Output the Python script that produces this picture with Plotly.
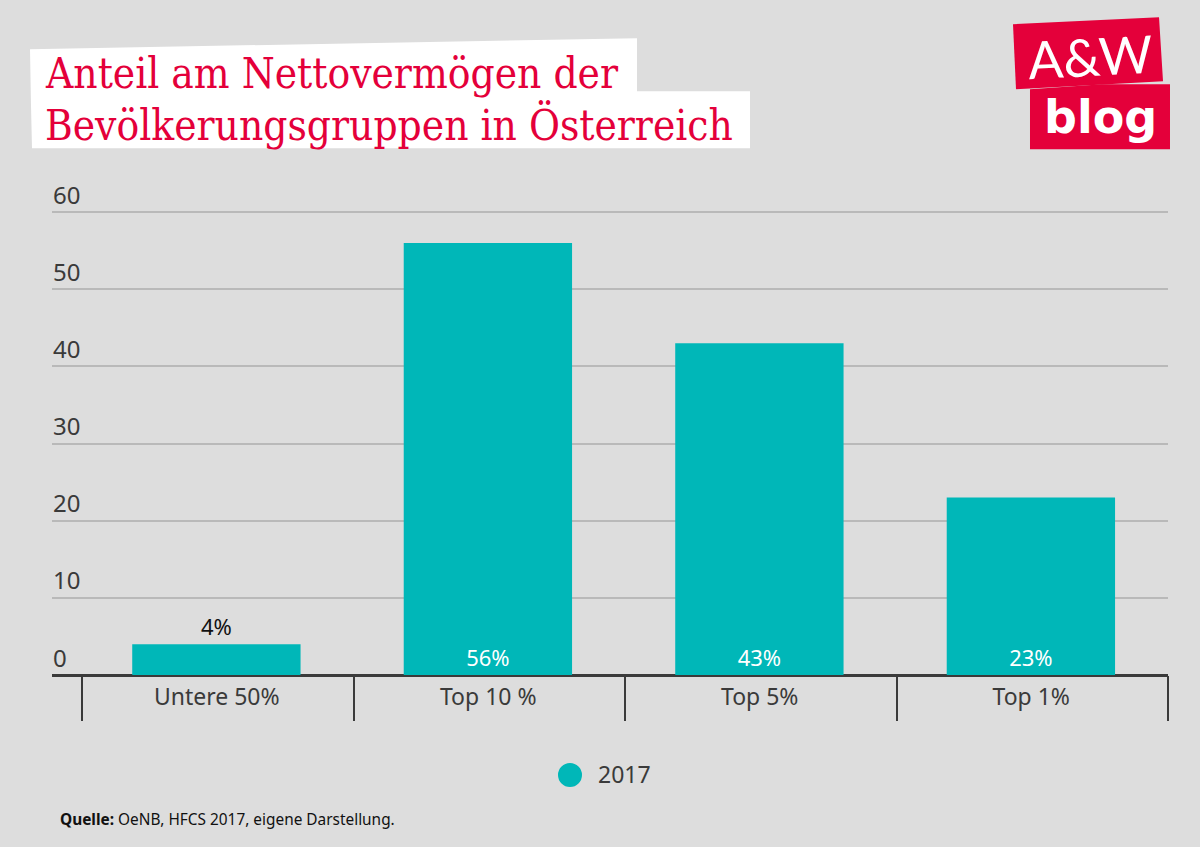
#!/usr/bin/env python3
"""Anteil am Nettovermögen nach Bevölkerungsgruppen, A&W-blog-style bar chart."""
import plotly.graph_objects as go

categories = ["Untere 50%", "Top 10 %", "Top 5%", "Top 1%"]
values_2017 = [4, 56, 43, 23]
y_ticks = [0, 10, 20, 30, 40, 50, 60]
series_name = "2017"

BG = "#DDDDDD"
TEAL = "#00B7B8"
RED = "#E4003A"
DARK = "#3a3a3a"
SANS = "Noto Sans"
SLAB = "DejaVu Serif Condensed"

W, H = 1200, 847
# y axis runs past 60 so the label above the top gridline is not dropped
Y_MAX = 70
LEFT, RIGHT, BOTTOM = 52, 1168, 675
TOP = BOTTOM - Y_MAX * 463 / 60


def px(x, y):
    return (x - LEFT) / (RIGHT - LEFT), (BOTTOM - y) / (BOTTOM - TOP)


def poly(points, color):
    coords = [px(*p) for p in points]
    path = "M " + " L ".join(f"{a:.5f},{b:.5f}" for a, b in coords) + " Z"
    return dict(type="path", xref="paper", yref="paper", path=path,
                fillcolor=color, line_width=0, layer="below")


def label(x, y, text, size, color, family=SANS, anchor="left", angle=0):
    a, b = px(x, y)
    return dict(xref="paper", yref="paper", x=a, y=b, text=text, showarrow=False,
                xanchor=anchor, yanchor="middle", textangle=angle,
                font=dict(size=size, color=color, family=family))


fig = go.Figure(go.Bar(
    x=categories,
    y=values_2017,
    name=series_name,
    width=0.62,
    offset=-0.315,
    marker=dict(color=TEAL, line_width=0),
    texttemplate="%{y}%",
    textposition=["outside", "inside", "inside", "inside"],
    insidetextanchor="start",
    textangle=0,
    constraintext="none",
    textfont=dict(family=SANS, size=22, color=["#111111", "white", "white", "white"]),
    cliponaxis=False,
    showlegend=False,
))

cx, cy = px(570, 775)
rx, ry = 12 / (RIGHT - LEFT), 12 / (BOTTOM - TOP)

fig.update_layout(
    width=W,
    height=H,
    margin=dict(l=LEFT, r=W - RIGHT, t=TOP, b=H - BOTTOM, pad=0),
    paper_bgcolor=BG,
    plot_bgcolor=BG,
    showlegend=False,
    font=dict(family=SANS, color="#333333"),
    xaxis=dict(
        type="category",
        range=[-0.6105, 3.5],
        tickson="boundaries",
        ticks="outside",
        ticklen=45,
        tickwidth=1.5,
        tickcolor=DARK,
        tickfont=dict(size=23, color=DARK),
        showline=False,
        showgrid=False,
        zeroline=False,
        ticklabelstandoff=6,
        ticklabelshift=-1,
    ),
    yaxis=dict(
        range=[0, Y_MAX],
        tickvals=y_ticks,
        ticklabelposition="inside top",
        ticks="",
        tickfont=dict(size=24, color=DARK),
        gridcolor="#B9B9B9",
        gridwidth=1.5,
        zeroline=True,
        zerolinecolor=DARK,
        zerolinewidth=3,
        showline=False,
        ticklabelstandoff=-2,
    ),
    shapes=[
        poly([(30, 49), (637, 38), (637, 91), (750, 91), (750, 148), (32, 148), (31, 105)], "white"),
        poly([(1013, 24), (1159, 17), (1163, 81), (1016, 89)], RED),
        poly([(1030, 89), (1102, 84), (1170, 84), (1170, 149), (1030, 149)], RED),
        dict(type="circle", xref="paper", yref="paper", x0=cx - rx, x1=cx + rx,
             y0=cy - ry, y1=cy + ry, fillcolor=TEAL, line_width=0),
        # plotly leaves out the first boundary tick when the range starts before it
        dict(type="line", xref="x", yref="paper", x0=-0.5, x1=-0.5,
             y0=0, y1=-45 / (BOTTOM - TOP), line=dict(color=DARK, width=1.5)),
    ],
    annotations=[
        label(43, 73, "Anteil am Nettovermögen der", 42, RED, SLAB),
        label(43, 125, "Bevölkerungsgruppen in Österreich", 42, RED, SLAB),
        label(1090, 56, "A&amp;W", 52, "white", "Lato", "center", -3),
        label(1100, 117, "<b>blog</b>", 46, "white", "DejaVu Sans", "center"),
        label(596, 774, series_name, 23, DARK),
        label(58, 820, "<b>Quelle:</b> OeNB, HFCS 2017, eigene Darstellung.", 15.4, "#111111"),
    ],
)

fig.write_html("out.html", config=dict(displayModeBar=False),
               post_script="document.body.style.margin='0';")
